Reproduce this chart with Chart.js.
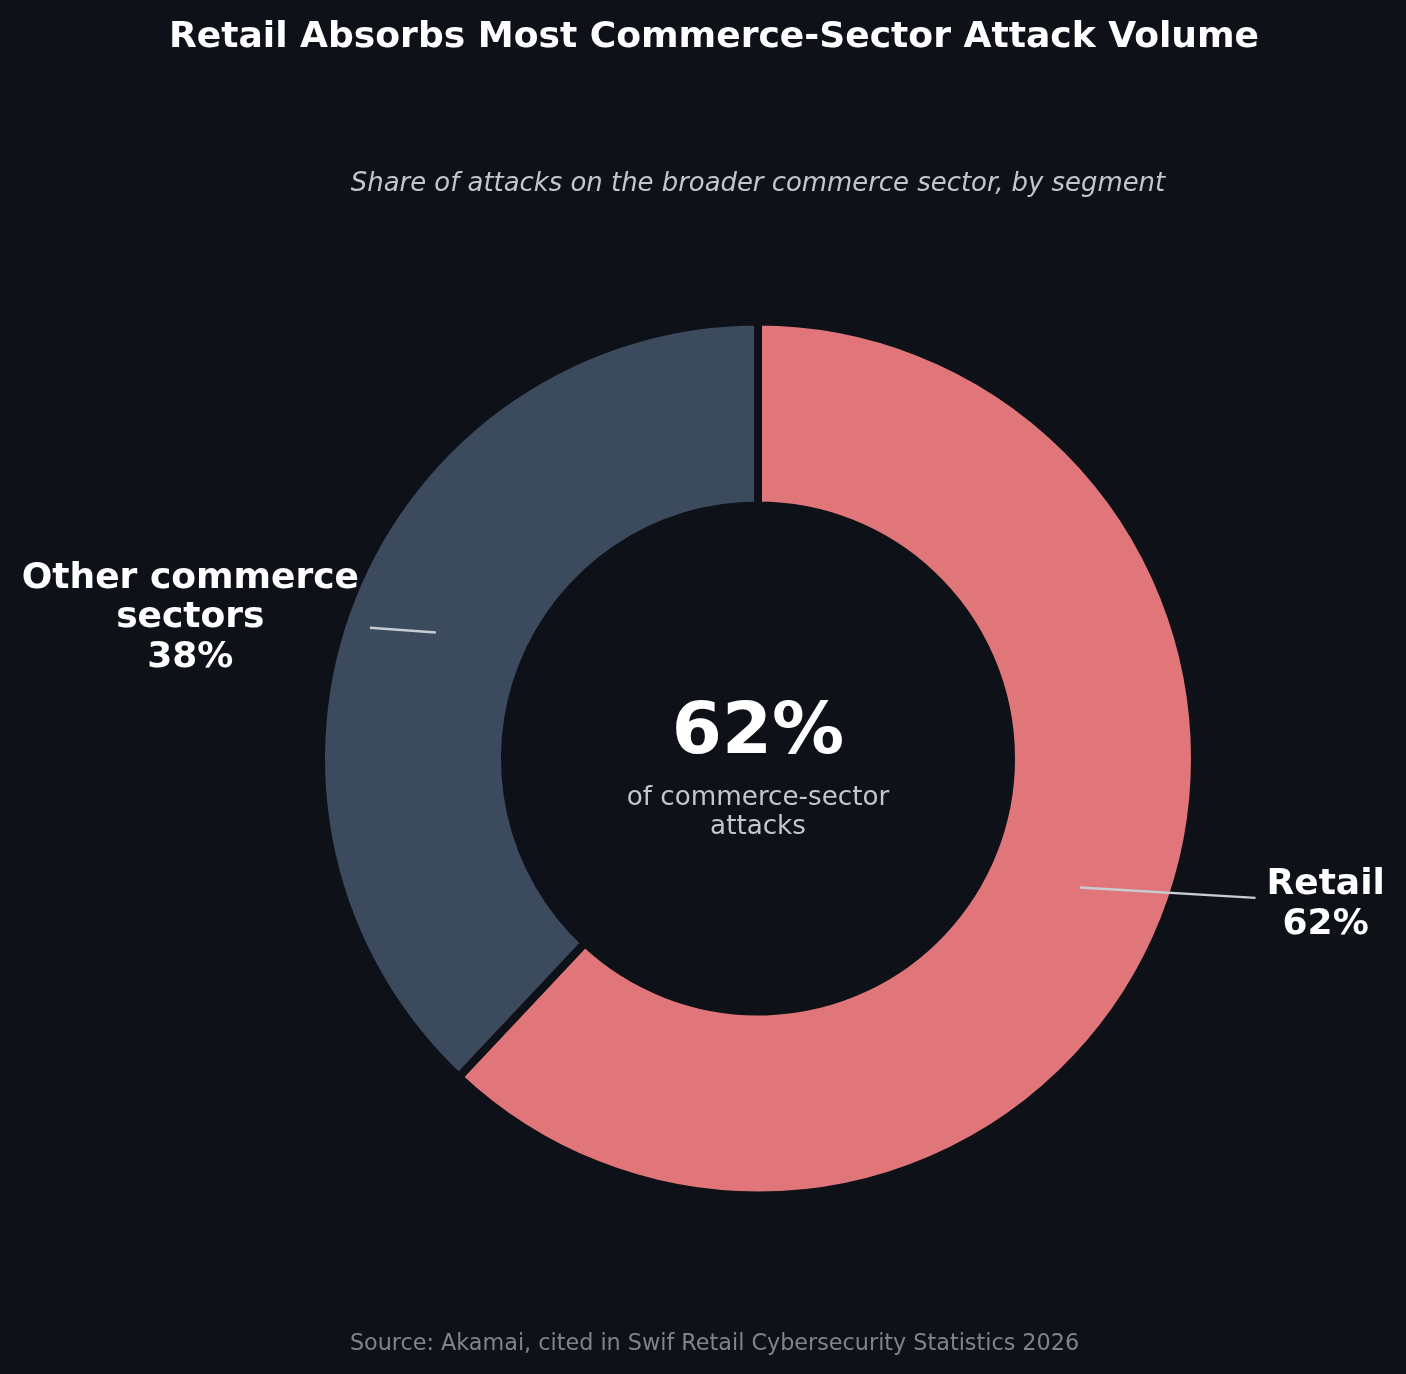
<!DOCTYPE html>
<html><head><meta charset="utf-8">
<script src="https://cdn.jsdelivr.net/npm/chart.js@4"></script>
<style>html,body{margin:0;padding:0;background:#0E1117;overflow:hidden;} #wrap{width:1406px;height:1374px;position:relative;}</style>
</head><body><div id="wrap"><canvas id="c"></canvas></div>
<script>
const categories = ['Retail', 'Other commerce sectors'];
const categoryLines = [['Retail'], ['Other commerce', 'sectors']];
const shares = [62, 38];
const segmentColors = ['#E0767A', '#3B4A5C'];
const titleText = 'Retail Absorbs Most Commerce-Sector Attack Volume';
const subtitleText = 'Share of attacks on the broader commerce sector, by segment';
const centerValue = shares[0] + '%';
const centerCaption = ['of commerce-sector', 'attacks'];
const sourceText = 'Source: Akamai, cited in Swif Retail Cybersecurity Statistics 2026';

const BG = '#0E1117';
const FONT = '"DejaVu Sans", "Liberation Sans", sans-serif';
const BORDER = 8;

const overlay = {
  id: 'overlay',
  afterDraw(chart) {
    const ctx = chart.ctx;
    ctx.save();
    // title
    ctx.fillStyle = '#FFFFFF';
    ctx.textAlign = 'center';
    ctx.textBaseline = 'alphabetic';
    ctx.font = 'bold 36.1px ' + FONT;
    ctx.fillText(titleText, 714, 47);
    // subtitle
    ctx.fillStyle = '#C3C6CE';
    ctx.font = 'italic 25.9px ' + FONT;
    ctx.fillText(subtitleText, 758, 191);
    // source
    ctx.fillStyle = '#7F848C';
    ctx.font = '22.3px ' + FONT;
    ctx.fillText(sourceText, 714.5, 1350);

    const meta = chart.getDatasetMeta(0);
    const first = meta.data[0];
    const cx = first.x, cy = first.y;
    // center text
    ctx.fillStyle = '#FFFFFF';
    ctx.font = 'bold 72px ' + FONT;
    ctx.fillText(centerValue, cx, cy - 6);
    ctx.fillStyle = '#C3C6CE';
    ctx.font = '26.2px ' + FONT;
    centerCaption.forEach((t, i) => ctx.fillText(t, cx, cy + 46 + i * 29));

    // segment labels with leader lines
    const lineH = 39.5;
    const capH = 36 * 0.729;
    meta.data.forEach((arc, i) => {
      const R = arc.outerRadius - BORDER / 2;
      const mid = (arc.startAngle + arc.endAngle) / 2;
      const c = Math.cos(mid), s = Math.sin(mid);
      const ax = cx + 1.41 * R * c;
      const ay = cy + 0.90 * R * s;
      const lines = categoryLines[i].concat([shares[i] + '%']);
      ctx.font = 'bold 36px ' + FONT;
      const w = Math.max(...lines.map(t => ctx.measureText(t).width));
      const h = lines.length * lineH;
      const pad = 11;
      const x0 = ax - w / 2 - pad, x1 = ax + w / 2 + pad;
      const y0 = ay - h / 2 - pad, y1 = ay + h / 2 + pad;
      const px = cx + 0.8 * R * c, py = cy + 0.8 * R * s + 1.5;
      const dx = ax - px, dy = ay - py;
      let tEnter = 0;
      if (dx !== 0) {
        const tx = dx > 0 ? (x0 - px) / dx : (x1 - px) / dx;
        tEnter = Math.max(tEnter, tx);
      }
      if (dy !== 0) {
        const ty = dy > 0 ? (y0 - py) / dy : (y1 - py) / dy;
        tEnter = Math.max(tEnter, ty);
      }
      ctx.strokeStyle = '#C8CCD4';
      ctx.lineWidth = 2.4;
      ctx.beginPath();
      ctx.moveTo(px, py);
      ctx.lineTo(px + dx * tEnter, py + dy * tEnter);
      ctx.stroke();
      ctx.fillStyle = '#FFFFFF';
      lines.forEach((t, k) => {
        const by = ay + (k - (lines.length - 1) / 2) * lineH + capH / 2 - 1;
        ctx.fillText(t, ax, by);
      });
    });
    ctx.restore();
  }
};

new Chart(document.getElementById('c'), {
  type: 'doughnut',
  data: {
    labels: categories,
    datasets: [{
      data: shares,
      backgroundColor: segmentColors,
      borderColor: BG,
      borderWidth: BORDER,
      hoverOffset: 0
    }]
  },
  options: {
    responsive: true,
    maintainAspectRatio: false,
    animation: false,
    events: [],
    radius: 437,
    cutout: '57.9%',
    layout: { padding: { left: 110, right: 0, top: 143, bottom: 0 } },
    plugins: {
      legend: { display: false },
      title: { display: false },
      tooltip: { enabled: false }
    }
  },
  plugins: [overlay]
});
</script>
</body></html>
